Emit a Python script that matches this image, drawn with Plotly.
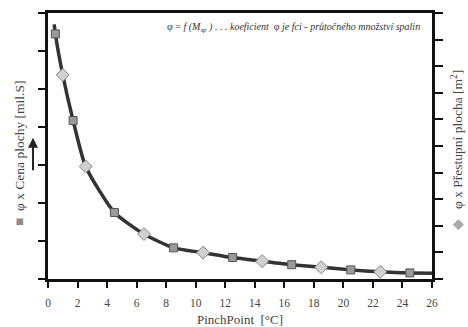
import plotly.graph_objects as go

# Data
# squares: "φ x Cena plochy" (left axis units, 0..7)
sq_x = [0.5, 1.7, 4.5, 8.5, 12.5, 16.5, 20.5, 24.5]
sq_y = [6.45, 4.17, 1.75, 0.82, 0.565, 0.376, 0.24, 0.16]
# diamonds: "φ x Přestupní plocha" (right axis units, 0..10)
dm_x = [1.0, 2.55, 6.5, 10.5, 14.5, 18.5, 22.5]
dm_y = [7.67, 4.23, 1.69, 0.99, 0.67, 0.44, 0.27]
# curve ends (left axis units)
curve_start = (0.42, 6.7)
curve_end = (26.0, 0.15)

x_ticks = list(range(0, 27, 2))
Y1_MAX, Y2_MAX = 7, 10

# build the fitted curve through all markers (converted to left-axis units)
pts = [curve_start, curve_end] + list(zip(sq_x, sq_y)) + \
      [(x, y * Y1_MAX / Y2_MAX) for x, y in zip(dm_x, dm_y)]
pts.sort()
cx = [p[0] for p in pts]
cy = [p[1] for p in pts]

FONT = "Liberation Serif"

fig = go.Figure()
fig.add_trace(go.Scatter(x=cx, y=cy, mode="lines",
                         line=dict(color="#333333", width=3.5, shape="spline", smoothing=0.6),
                         hoverinfo="skip", showlegend=False))
fig.add_trace(go.Scatter(x=sq_x, y=sq_y, mode="markers",
                         marker=dict(symbol="square", size=8, color="#9a9a9a",
                                     line=dict(color="#555555", width=1)),
                         showlegend=False))
fig.add_trace(go.Scatter(x=dm_x, y=dm_y, mode="markers", yaxis="y2",
                         marker=dict(symbol="diamond", size=10, color="#d0d0d0",
                                     line=dict(color="#888888", width=1)),
                         showlegend=False))

axis_common = dict(showgrid=False, zeroline=False, showline=True, automargin=False,
                   linecolor="#111111", linewidth=2.5, ticks="outside",
                   tickcolor="#111111", tickwidth=2)

fig.update_layout(
    width=468, height=327,
    margin=dict(l=48, r=35.5, t=13, b=47.7, autoexpand=False),
    paper_bgcolor="white", plot_bgcolor="white",
    font=dict(family=FONT, color="#444444", size=11),
    xaxis=dict(range=[0, 26], tickvals=x_ticks, ticklen=6, mirror=True,
               ticklabelstandoff=5,
               tickfont=dict(size=11.5, color="#444444"),
               title=dict(text="PinchPoint  [°C]", font=dict(size=13, color="#444444"), standoff=9),
               **axis_common),
    yaxis=dict(range=[0, Y1_MAX], dtick=1, ticklen=7, showticklabels=False, **axis_common),
    yaxis2=dict(range=[0, Y2_MAX], dtick=1, ticklen=8, showticklabels=False,
                overlaying="y", side="right", **axis_common),
)

# Axis titles as rotated annotations
fig.add_annotation(xref="paper", yref="paper", x=-0.073, y=0.474,
                   text="<span style='color:#8a8a8a'>■</span>  φ x Cena plochy [mil.S]",
                   textangle=-90, showarrow=False, font=dict(size=13.5, color="#444444", family=FONT),
                   xanchor="center", yanchor="middle")
fig.add_annotation(xref="paper", yref="paper", x=1.066, y=0.486,
                   text="<span style='color:#aaaaaa'>◆</span>   φ x Přestupní plocha [m<sup>2</sup>]",
                   textangle=-90, showarrow=False, font=dict(size=13.5, color="#444444", family=FONT),
                   xanchor="center", yanchor="middle")
# upward arrow beside the left title
fig.add_annotation(xref="paper", yref="paper", x=-0.039, y=0.531, ax=0, ay=34,
                   text="", showarrow=True, arrowhead=2, arrowsize=1, arrowwidth=2,
                   arrowcolor="#222222")
# top note
fig.add_annotation(xref="paper", yref="paper", x=0.975, y=0.947,
                   text="φ = <i>f (M<sub>sp</sub> ) . . . koeficient</i>  φ <i>je fci - průtočného množství spalin</i>",
                   showarrow=False, xanchor="right", yanchor="middle",
                   font=dict(size=10, color="#333333", family=FONT))

fig.write_html("out.html", config={"displayModeBar": False},
               post_script="document.body.style.margin='0';document.body.style.overflow='hidden';")
